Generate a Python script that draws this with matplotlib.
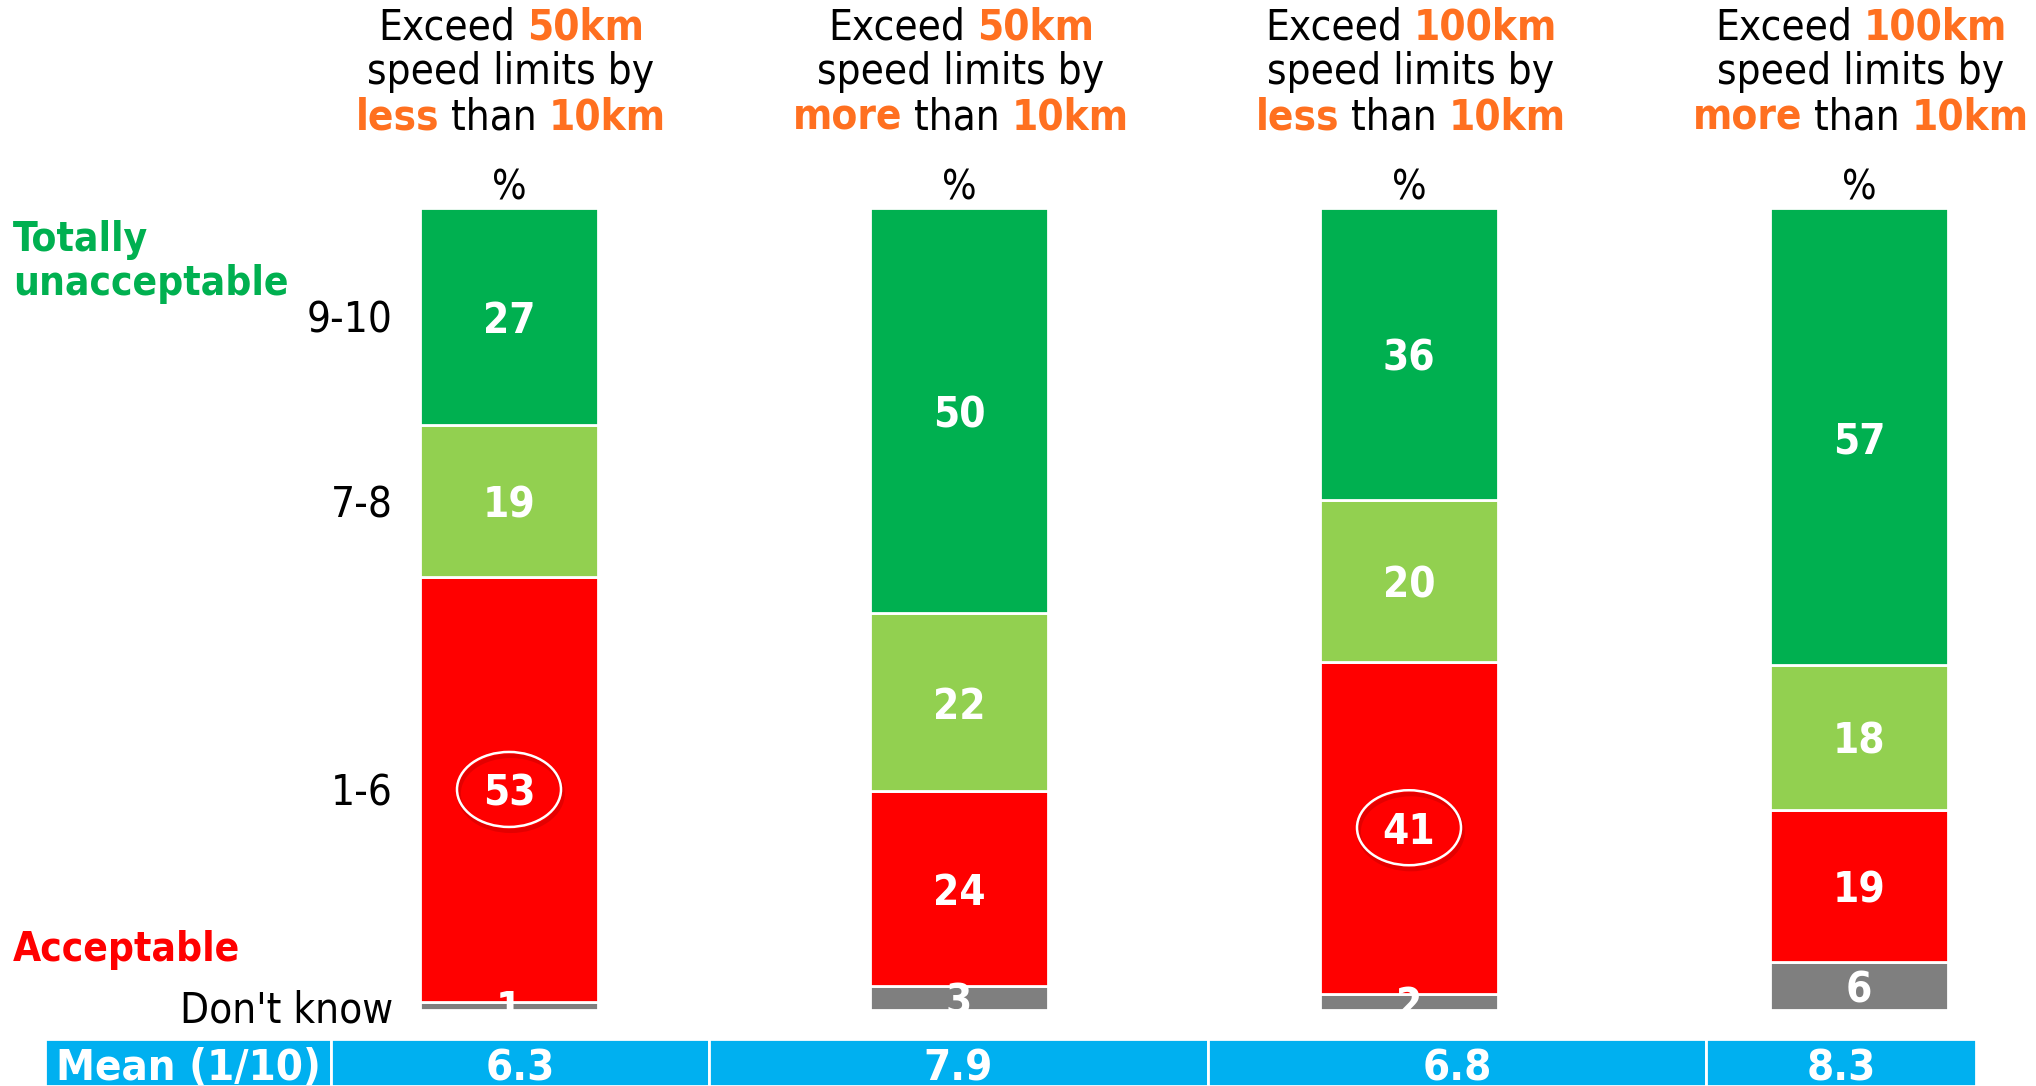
import matplotlib
matplotlib.use('Agg')
import matplotlib.pyplot as plt
from matplotlib.patches import Ellipse
from matplotlib import font_manager
import numpy as np

# ---- data (bottom to top in each bar) ----
titles_km = ['50km', '50km', '100km', '100km']
titles_dir = ['less', 'more', 'less', 'more']
categories = ["Don't know", '1-6', '7-8', '9-10']
dont_know = [1, 3, 2, 6]
score_1_6 = [53, 24, 41, 19]
score_7_8 = [19, 22, 20, 18]
score_9_10 = [27, 50, 36, 57]
means = ['6.3', '7.9', '6.8', '8.3']
circled = [0, 2]  # bars whose 1-6 value is circled

series = [dont_know, score_1_6, score_7_8, score_9_10]
colors = ['#7F7F7F', '#FF0000', '#92D050', '#00B050']
ORANGE = '#FF7020'

# narrow face if one is installed
names = {f.name for f in font_manager.fontManager.ttflist}
stretches = {(f.name, f.stretch) for f in font_manager.fontManager.ttflist}
if 'Liberation Sans Narrow' in names:
    plt.rcParams['font.family'] = ['Liberation Sans Narrow', 'DejaVu Sans']
    SZ = 1.0
elif ('DejaVu Sans', 'condensed') in stretches or ('DejaVu Sans', 'semi-condensed') in stretches:
    plt.rcParams['font.family'] = ['DejaVu Sans']
    plt.rcParams['font.stretch'] = 'condensed'
    SZ = 1.08
else:
    plt.rcParams['font.family'] = ['DejaVu Sans']
    SZ = 0.94

W, H = 2036, 1086
fig = plt.figure(figsize=(W / 100, H / 100), dpi=100)

# main axes: bar centres at 509px, 450px apart; 0% at 1010px, 100% at 208px (from top)
step = 450.0
ppu = (1010 - 208) / 100.0
ax = fig.add_axes([0, 0, 1, 1])
ax.set_xlim(-509 / step, (W - 509) / step)
ax.set_ylim(-(H - 1010) / ppu, 1010 / ppu)
ax.axis('off')

x = np.arange(len(means))
data = np.array(series, dtype=float)
shares = data / data.sum(axis=0) * 100
bottoms = np.vstack([np.zeros(len(x)), np.cumsum(shares, axis=0)[:-1]])
bar_w = 178 / step

for vals, share, bot, col in zip(series, shares, bottoms, colors):
    ax.bar(x, share, bottom=bot, width=bar_w, color=col, edgecolor='white', linewidth=2)
    for xi, v, s, b in zip(x, vals, share, bot):
        ax.text(xi, b + s / 2, str(v), ha='center', va='center_baseline', color='white',
                fontsize=28 * SZ, fontweight='bold')

# circles around the 1-6 figures
for i in circled:
    cy = bottoms[1][i] + shares[1][i] / 2
    ax.add_patch(Ellipse((i + 0.004, cy - 0.5), 104 / step, 75 / ppu, fill=False,
                         ec='#B00000', lw=3, alpha=0.35))
    ax.add_patch(Ellipse((i, cy), 104 / step, 75 / ppu, fill=False, ec='white', lw=1.8))

# category labels beside first bar
for k, lab in enumerate(categories):
    ax.text(-0.258, bottoms[k][0] + shares[k][0] / 2, lab, ha='right', va='center_baseline',
            fontsize=28 * SZ, color='black')

# % above each bar
for xi in x:
    ax.text(xi, 100 + 20 / ppu, '%', ha='center', va='center', fontsize=27 * SZ)

fig.text(13 / W, 1 - 262 / H, 'Totally\nunacceptable', color='#00B050', fontsize=27 * SZ,
         fontweight='bold', ha='left', va='center', linespacing=1.15)
fig.text(13 / W, 1 - 950 / H, 'Acceptable', color='#FF0000', fontsize=27 * SZ,
         fontweight='bold', ha='left', va='center')

# column titles with mixed styling
fig.canvas.draw()
rend = fig.canvas.get_renderer()
TS = 28 * SZ


def text_w(s, weight):
    t = fig.text(0, 0, s, fontsize=TS, fontweight=weight)
    w = t.get_window_extent(rend).width
    t.remove()
    return w


space_w = text_w('a a', 'normal') - text_w('aa', 'normal')


def rich_line(xc, y, parts):
    widths = [text_w(s, wt) for s, c, wt in parts]
    total = sum(widths) + space_w * (len(parts) - 1)
    left = xc - total / 2
    for (s, c, wt), w in zip(parts, widths):
        fig.text(left / W, 1 - y / H, s, color=c, fontsize=TS, fontweight=wt,
                 ha='left', va='baseline')
        left += w + space_w


for i in range(len(means)):
    xc = 511 + step * i
    rich_line(xc, 39, [('Exceed', 'black', 'normal'), (titles_km[i], ORANGE, 'bold')])
    rich_line(xc, 84, [('speed limits by', 'black', 'normal')])
    rich_line(xc, 129, [(titles_dir[i], ORANGE, 'bold'), ('than', 'black', 'normal'),
                        ('10km', ORANGE, 'bold')])

# mean row
edges = np.array([45, 331, 709, 1208, 1706, 1976])
axm = fig.add_axes([0, 0, 1, (H - 1039) / H])
axm.set_xlim(0, W)
axm.set_ylim(0, 1)
axm.axis('off')
axm.barh(0.5, np.diff(edges), left=edges[:-1], height=1.0, color='#00B0F0',
         edgecolor='white', linewidth=2)
cell_c = (edges[:-1] + edges[1:]) / 2
for cx, s in zip(cell_c, ['Mean (1/10)'] + means):
    axm.text(cx, 0.38, s, ha='center', va='center', color='white', fontsize=29 * SZ,
             fontweight='bold')

fig.savefig('out.png', dpi=100)
